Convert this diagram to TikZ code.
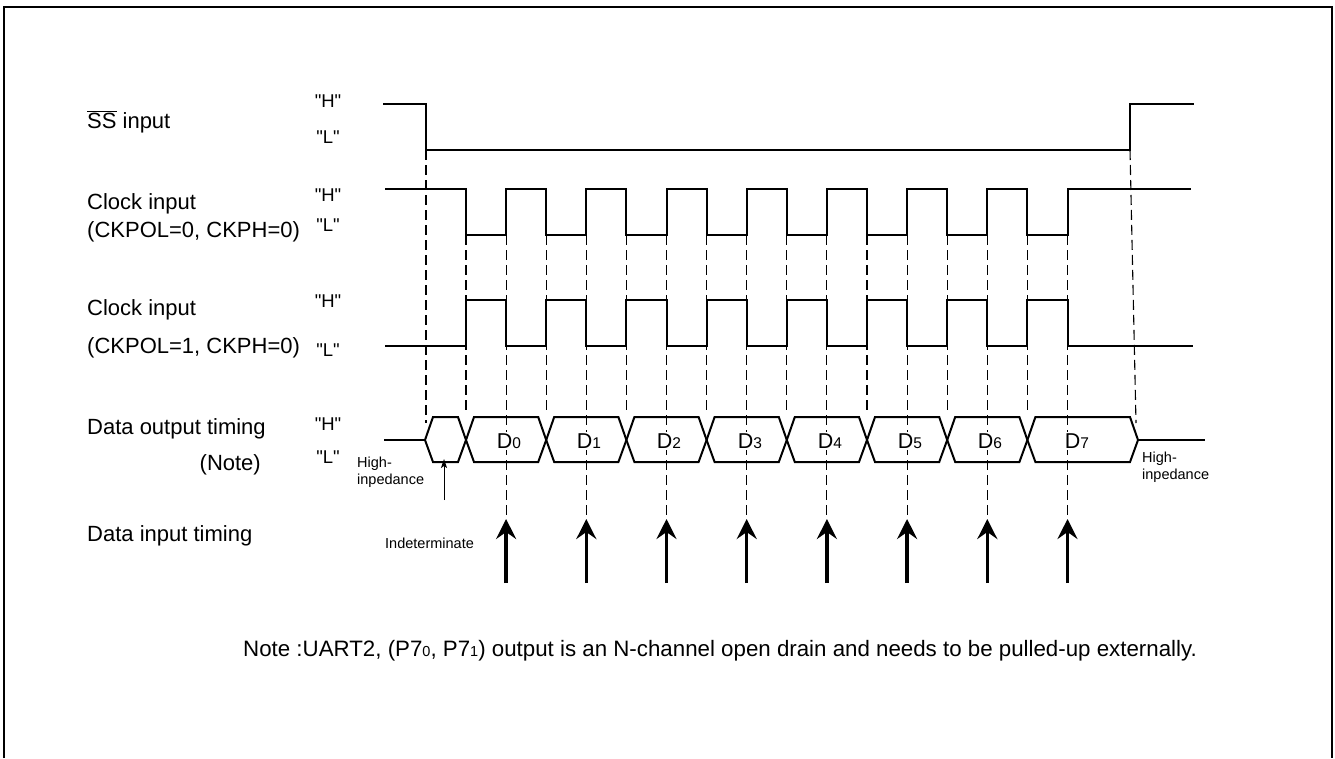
\documentclass[tikz,border=0pt]{standalone}
\usepackage{fontspec}
\setmainfont{Liberation Sans}
\newfontfamily\qfont{Liberation Sans}[Ligatures=TeXOff]
\usetikzlibrary{arrows.meta}
\newcommand\smalldig[1]{{\fontsize{14.5}{14}\selectfont #1}}
\newcommand\dsub[1]{\raisebox{-0.8pt}{\fontsize{15.5}{15}\selectfont #1}}
\newcommand\dhex[2]{\draw[wave] (#1,440) -- (#1+8,417) -- (#2-8,417) -- (#2,440) -- (#2-8,462) -- (#1+8,462) -- cycle;}
\begin{document}
\begin{tikzpicture}[x=1pt,y=-1pt,
  wave/.style={line width=2pt, line join=miter},
  guide/.style={line width=1.1pt, dash pattern=on 10pt off 5pt},
  frame/.style={line width=2pt},
  lbl/.style={anchor=base west, inner sep=0pt, font=\fontsize{22}{26}\selectfont},
  lvl/.style={anchor=base, inner sep=0pt, font=\qfont\fontsize{18.5}{22}\selectfont},
  small/.style={anchor=base west, inner sep=0pt, font=\fontsize{14.5}{17}\selectfont},
  dlab/.style={anchor=base, inner sep=1.5pt, fill=white, font=\fontsize{21.5}{24}\selectfont},
  sample/.style={line width=3.5pt, -{Stealth[length=20pt,width=20pt,inset=7pt]}},
  thinarrow/.style={line width=1pt, -{Stealth[length=9pt,width=6pt,inset=2pt]}}]
\useasboundingbox (0,0) rectangle (1335,758);
\draw[frame] (4,758) -- (4,7) -- (1332,7) -- (1332,758);

% clock edge coordinates
\foreach \k in {0,...,15}{
  \coordinate (e\k) at ({466+40.1*\k},235);
}
\foreach \k in {1,3,...,15}{
  \path (e\k) ++(0,284) coordinate (t\k) ++(0,64) coordinate (b\k);
}
\coordinate (ssf) at (426,150);
\coordinate (ssfb) at (426,423);
\coordinate (ssr) at (1130,150);
\coordinate (ssrb) at (1136,423);

% dashed guides
\draw[guide] (ssf) -- (ssfb);
\draw[guide] (ssr) -- (ssrb);
\foreach \k in {0,2,...,14}{
  \draw[guide] (e\k) -- ++(0,177);
}
\foreach \k in {1,3,...,15}{
  \draw[guide] (e\k) -- (t\k);
}

% SS waveform
\draw[wave] (383,104) -| (ssf) -- (ssr) |- (1194,104);

% Clock (CKPOL=0)
\draw[wave] (385,189) -| (466,235) -| (506.1,189) -| (546.2,235) -| (586.3,189)
  -| (626.4,235) -| (666.5,189) -| (706.6,235) -| (746.7,189) -| (786.8,235)
  -| (826.9,189) -| (867,235) -| (907.1,189) -| (947.2,235) -| (987.3,189)
  -| (1027.4,235) -| (1067.5,189) -- (1191,189);

% Clock (CKPOL=1)
\draw[wave] (385,346) -| (466,300) -| (506.1,346) -| (546.2,300) -| (586.3,346)
  -| (626.4,300) -| (666.5,346) -| (706.6,300) -| (746.7,346) -| (786.8,300)
  -| (826.9,346) -| (867,300) -| (907.1,346) -| (947.2,300) -| (987.3,346)
  -| (1027.4,300) -| (1067.5,346) -- (1193,346);

% Data output
\draw[wave] (384,440) -- (425,440);
\draw[wave] (1138,440) -- (1205,440);
\dhex{425}{466}
\dhex{466}{546.2}
\dhex{546.2}{626.4}
\dhex{626.4}{706.6}
\dhex{706.6}{786.8}
\dhex{786.8}{867}
\dhex{867}{947.2}
\dhex{947.2}{1027.4}
\dhex{1027.4}{1138}

\node[dlab] (d0) at (509,448) {D\dsub{0}};
\node[dlab] (d1) at (589,448) {D\dsub{1}};
\node[dlab] (d2) at (669,448) {D\dsub{2}};
\node[dlab] (d3) at (750,448) {D\dsub{3}};
\node[dlab] (d4) at (830,448) {D\dsub{4}};
\node[dlab] (d5) at (910,448) {D\dsub{5}};
\node[dlab] (d6) at (990,448) {D\dsub{6}};
\node[dlab] (d7) at (1077,448) {D\dsub{7}};

% sampling arrows
\foreach \k in {1,3,...,15}{
  \draw[sample] (b\k) -- (t\k);
}

% indeterminate arrow
\coordinate (ind0) at (444,500);
\coordinate (ind1) at (444,459);
\draw[thinarrow] (ind0) -- (ind1);

% left labels
\node[lbl] (ss) at (87,128) {$\overline{\hbox{SS}}$ input};
\node[lbl] (ck1a) at (87,209) {Clock input};
\node[lbl] (ck1b) at (87,237) {(CKPOL=0, CKPH=0)};
\node[lbl] (ck2a) at (87,315) {Clock input};
\node[lbl] (ck2b) at (87,353) {(CKPOL=1, CKPH=0)};
\node[lbl] (dout) at (87,434) {Data output timing};
\node[lbl, anchor=base east] (dnote) at (261,470) {(Note)};
\node[lbl] (din) at (87,541) {Data input timing};

% level labels
\node[lvl] (ssh) at (328,107) {"H"};
\node[lvl] (ssl) at (328,143) {"L"};
\node[lvl] (c1h) at (328,201) {"H"};
\node[lvl] (c1l) at (328,231) {"L"};
\node[lvl] (c2h) at (328,307) {"H"};
\node[lvl] (c2l) at (328,356) {"L"};
\node[lvl] (dh) at (328,430) {"H"};
\node[lvl] (dl) at (328,463) {"L"};

% small labels
\node[small] (hz1a) at (357,467) {High-};
\node[small] (hz1b) at (357,484) {inpedance};
\node[small] (hz2a) at (1142,462) {High-};
\node[small] (hz2b) at (1142,479) {inpedance};
\node[small] (indet) at (385,548) {Indeterminate};

% note
\node[lbl, font=\fontsize{22.3}{26}\selectfont] (footnote) at (243,656) {Note :UART2, (P7\smalldig{0}, P7\smalldig{1}) output is an N-channel open drain and needs to be pulled-up externally.};
\end{tikzpicture}
\end{document}
